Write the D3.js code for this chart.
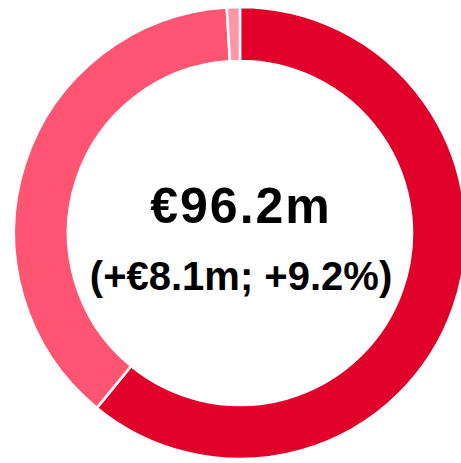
<!DOCTYPE html>
<html>
<head>
<meta charset="utf-8">
<script src="https://cdn.jsdelivr.net/npm/d3@7"></script>
<style>
  body { margin: 0; background: #fff; }
  svg { display: block; }
</style>
</head>
<body>
<div id="container"></div>
<script>
// segments clockwise from 12 o'clock
const segments = ["A", "B", "C"];
const values = [58.6, 36.7, 0.9];
const colors = ["#e10029", "#ff5572", "#ff97a8"];
const mainLabel = "€96.2m";
const subLabel = "(+€8.1m; +9.2%)";

const w = 461;
const h = 463;
const cx = 240;
const cy = 233;
const outer = 226;
const inner = 172;

const svg = d3.select("#container")
  .append("svg")
  .attr("width", w)
  .attr("height", h);

const pie = d3.pie()
  .sort(null)
  .value(d => d);

const arc = d3.arc()
  .innerRadius(inner)
  .outerRadius(outer);

const g = svg.append("g")
  .attr("transform", "translate(" + cx + "," + cy + ")");

g.selectAll("path")
  .data(pie(values))
  .enter()
  .append("path")
  .attr("d", arc)
  .attr("fill", (d, i) => colors[i])
  .attr("stroke", "#fff")
  .attr("stroke-width", 2.5);

g.append("text")
  .attr("x", 1)
  .attr("y", -10)
  .attr("text-anchor", "middle")
  .style("font-family", "Arial, 'Liberation Sans', sans-serif")
  .style("font-weight", "bold")
  .style("font-size", "50px")
  .style("letter-spacing", "2px")
  .text(mainLabel);

g.append("text")
  .attr("x", 1)
  .attr("y", 57)
  .attr("text-anchor", "middle")
  .style("font-family", "Arial, 'Liberation Sans', sans-serif")
  .style("font-weight", "bold")
  .style("font-size", "40px")
  .text(subLabel);
</script>
</body>
</html>
